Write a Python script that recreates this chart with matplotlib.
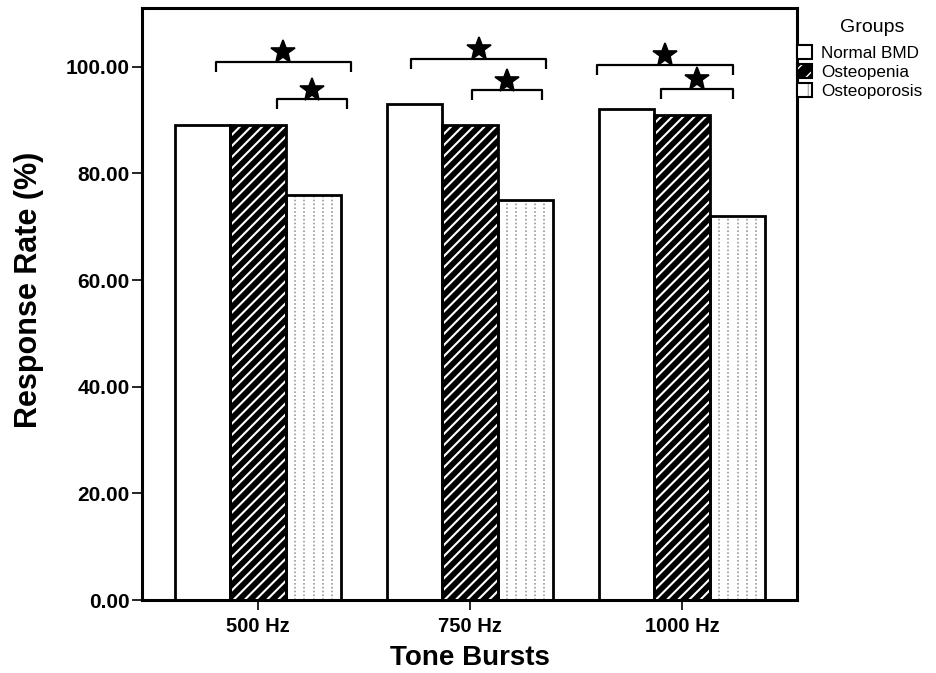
import matplotlib
matplotlib.use("Agg")
import matplotlib.pyplot as plt
from matplotlib.patches import Patch
from matplotlib.lines import Line2D
import numpy as np

# ---- data ----
tone_bursts = ["500 Hz", "750 Hz", "1000 Hz"]
groups = ["Normal BMD", "Osteopenia", "Osteoporosis"]
normal_bmd = [89, 93, 92]
osteopenia = [89, 89, 91]
osteoporosis = [76, 75, 72]
y_ticks = [0, 20, 40, 60, 80, 100]

# significance brackets: (left offset, right offset, height) per tone burst
wide_left = [-0.20, -0.28, -0.40]
wide_right = [0.44, 0.36, 0.24]
wide_height = [100.9, 101.5, 100.3]
narrow_left = [0.09, 0.01, -0.10]
narrow_right = [0.42, 0.34, 0.24]
narrow_height = [93.9, 95.6, 95.8]

plt.rcParams["font.family"] = ["Liberation Sans", "DejaVu Sans"]

fig = plt.figure(figsize=(9.37, 6.73), dpi=100)
ax = fig.add_axes([142 / 937, 73 / 673, 655 / 937, 592 / 673])

x = np.arange(len(tone_bursts))
w = 0.262
offsets = [-w, 0.0, w]
edge_lw = 2.0

# Normal BMD: plain white
ax.bar(x + offsets[0], normal_bmd, w, facecolor="white", edgecolor="black",
       linewidth=edge_lw, zorder=3)

# Osteopenia: black with white diagonal stripes
with plt.rc_context({"hatch.linewidth": 1.5}):
    ax.bar(x + offsets[1], osteopenia, w, facecolor="black", edgecolor="white",
           hatch="///", linewidth=0, zorder=2)
ax.bar(x + offsets[1], osteopenia, w, facecolor="none", edgecolor="black",
       linewidth=edge_lw, zorder=3)

# Osteoporosis: white with columns of fine grey dots
ax.bar(x + offsets[2], osteoporosis, w, facecolor="white", edgecolor="none",
       linewidth=0, zorder=2)
for xc, top in zip(x + offsets[2], osteoporosis):
    for k in range(1, 6):
        xd = xc - w / 2 + k * w / 6
        ax.add_line(Line2D([xd, xd], [0, top], color="#9a9a9a", lw=1.2,
                           linestyle=(0, (1, 1.3)), zorder=2.5))
ax.bar(x + offsets[2], osteoporosis, w, facecolor="none", edgecolor="black",
       linewidth=edge_lw, zorder=3)

# significance brackets with stars
drop = 1.9
for i in range(len(tone_bursts)):
    for l, r, h in ((wide_left[i], wide_right[i], wide_height[i]),
                    (narrow_left[i], narrow_right[i], narrow_height[i])):
        xl, xr = x[i] + l, x[i] + r
        ax.plot([xl, xl, xr, xr], [h - drop, h, h, h - drop], color="black",
                lw=1.6, solid_capstyle="butt", zorder=4, clip_on=False)
        ax.plot((xl + xr) / 2, h + 1.8, marker="*", color="black",
                markersize=18, markeredgewidth=1.2, zorder=5, clip_on=False)

ax.set_xlim(-0.547, 2.542)
ax.set_ylim(0, 111)
ax.set_yticks(y_ticks)
ax.set_yticklabels([f"{v:.2f}" for v in y_ticks], fontsize=15, fontweight="bold")
ax.set_xticks(x)
ax.set_xticklabels(tone_bursts, fontsize=14.5, fontweight="bold")
ax.tick_params(axis="both", direction="out", length=7, width=1.2, color="black")
ax.tick_params(axis="x", pad=5)
ax.tick_params(axis="y", pad=2)
for s in ax.spines.values():
    s.set_linewidth(2.2)
    s.set_zorder(6)

ax.set_xlabel("Tone Bursts", fontsize=20, fontweight="bold")
ax.xaxis.set_label_coords(0.5008, -0.0765)
ax.set_ylabel("Response Rate (%)", fontsize=22, fontweight="bold")
ax.yaxis.set_label_coords(-0.150, 0.524)

# legend
h_normal = Patch(facecolor="white", edgecolor="black", linewidth=1.5)
h_open = (Patch(facecolor="black", edgecolor="white", hatch="//", linewidth=0),
          Patch(facecolor="none", edgecolor="black", linewidth=1.5))
h_porosis = (Patch(facecolor="white", edgecolor="#b0b0b0", hatch="|", linewidth=0),
             Patch(facecolor="none", edgecolor="black", linewidth=1.5))
fig.text(872 / 937, 1 - 27 / 673, "Groups", fontsize=14, ha="center", va="center")
fig.legend([h_normal, h_open, h_porosis], groups,
           loc="upper left", bbox_to_anchor=(797 / 937, 1 - 45 / 673),
           frameon=False, fontsize=12.3,
           handlelength=0.85, handleheight=0.85, handletextpad=0.55,
           labelspacing=0.2, borderaxespad=0, borderpad=0)

fig.savefig("out.png", dpi=100)
